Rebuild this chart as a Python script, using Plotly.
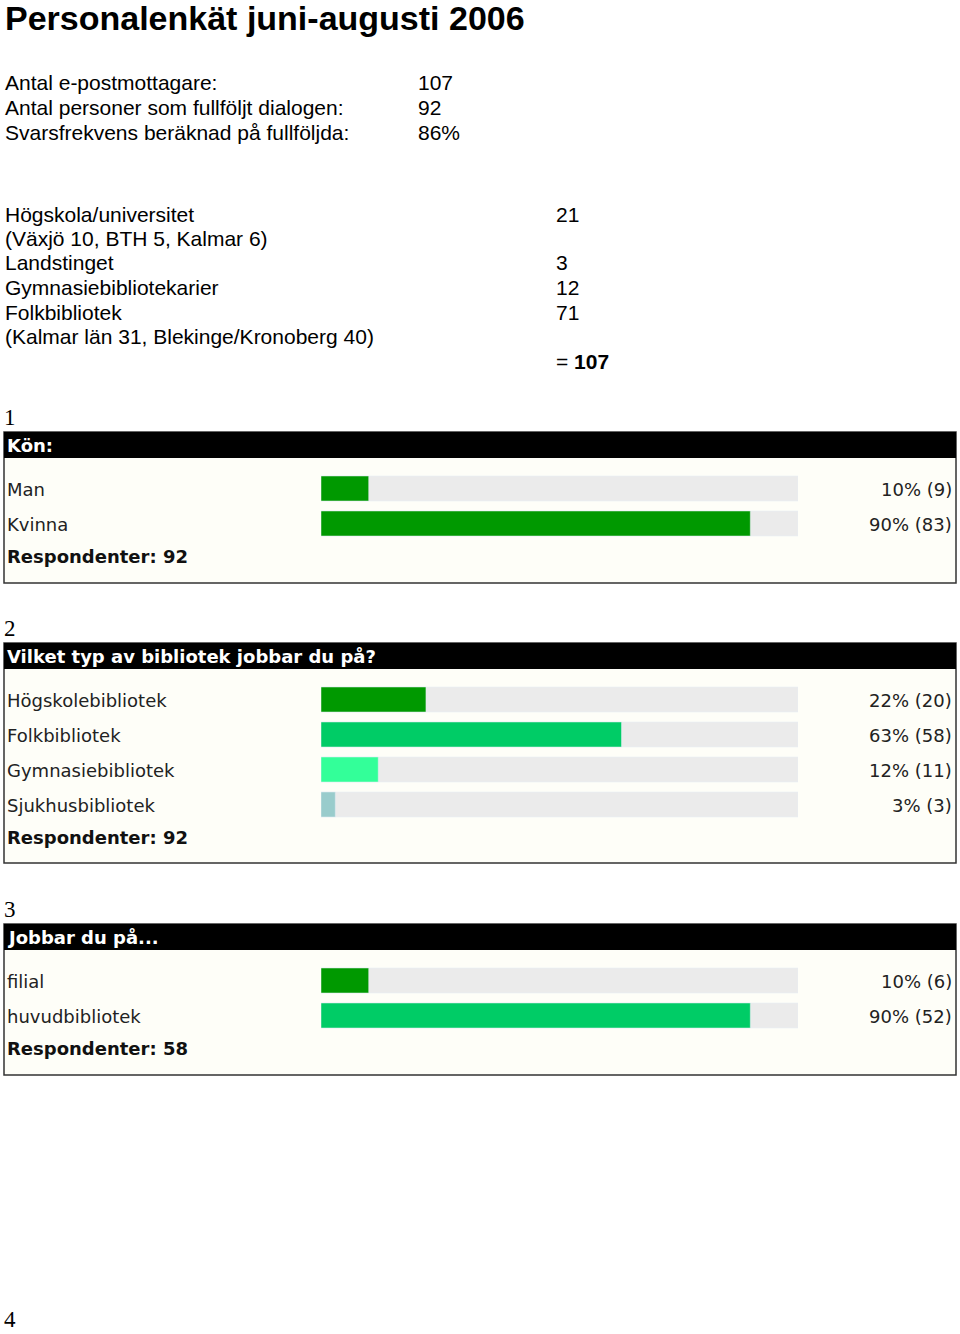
import plotly.graph_objects as go

W, H = 960, 1334

# ---------------- data ----------------
title_text = "Personalenkät juni-augusti 2006"

stats_labels = ["Antal e-postmottagare:", "Antal personer som fullföljt dialogen:",
                "Svarsfrekvens beräknad på fullföljda:"]
stats_values = ["107", "92", "86%"]

group_labels = ["Högskola/universitet", "(Växjö 10, BTH 5, Kalmar 6)", "Landstinget",
                "Gymnasiebibliotekarier", "Folkbibliotek", "(Kalmar län 31, Blekinge/Kronoberg 40)", ""]
group_values = ["21", "", "3", "12", "71", "", "= <b>107</b>"]

page_numbers = ["1", "2", "3", "4"]
page_number_y = [417, 628, 909, 1319]

q1_title = "Kön:"
q1_labels = ["Man", "Kvinna"]
q1_pct = [10, 90]
q1_n = [9, 83]
q1_resp = 92
q1_colors = ["#009900", "#009900"]

q2_title = "Vilket typ av bibliotek jobbar du på?"
q2_labels = ["Högskolebibliotek", "Folkbibliotek", "Gymnasiebibliotek", "Sjukhusbibliotek"]
q2_pct = [22, 63, 12, 3]
q2_n = [20, 58, 11, 3]
q2_resp = 92
q2_colors = ["#009900", "#00CC66", "#33FF99", "#99CCCC"]

q3_title = "Jobbar du på..."
q3_labels = ["filial", "huvudbibliotek"]
q3_pct = [10, 90]
q3_n = [6, 52]
q3_resp = 58
q3_colors = ["#009900", "#00CC66"]

# ---------------- layout helpers ----------------
def X(px):
    return px / W


def Y(py):
    return 1 - py / H


SANS = "Liberation Sans, Arial, sans-serif"
SERIF = "Liberation Serif, Times New Roman, serif"
PIX = "DejaVu Sans, Verdana, sans-serif"
PFS = 18

fig = go.Figure()
shapes = []
annotations = []

# Title
annotations.append(dict(x=X(3), y=Y(18), xref="paper", yref="paper", text="<b>" + title_text + "</b>",
                        showarrow=False, xanchor="left", yanchor="middle",
                        font=dict(family=SANS, size=34, color="black")))

for i, (lab, val) in enumerate(zip(stats_labels, stats_values)):
    yy = 83 + i * 24.5
    annotations.append(dict(x=X(3), y=Y(yy), xref="paper", yref="paper", text=lab, showarrow=False,
                            xanchor="left", yanchor="middle", font=dict(family=SANS, size=21, color="black")))
    annotations.append(dict(x=X(416), y=Y(yy), xref="paper", yref="paper", text=val, showarrow=False,
                            xanchor="left", yanchor="middle", font=dict(family=SANS, size=21, color="black")))

for i, (lab, val) in enumerate(zip(group_labels, group_values)):
    yy = 214 + i * 24.5
    if lab:
        annotations.append(dict(x=X(3), y=Y(yy), xref="paper", yref="paper", text=lab, showarrow=False,
                                xanchor="left", yanchor="middle", font=dict(family=SANS, size=21, color="black")))
    if val:
        annotations.append(dict(x=X(554), y=Y(yy), xref="paper", yref="paper", text=val, showarrow=False,
                                xanchor="left", yanchor="middle", font=dict(family=SANS, size=21, color="black")))

# page numbers
for num, ny in zip(page_numbers, page_number_y):
    annotations.append(dict(x=X(2), y=Y(ny), xref="paper", yref="paper", text=num,
                            showarrow=False, xanchor="left", yanchor="middle",
                            font=dict(family=SERIF, size=23, color="black")))

panels = [
    dict(top=432, bottom=583, title=q1_title, labels=q1_labels, pct=q1_pct, n=q1_n, resp=q1_resp,
         colors=q1_colors, first=488.5),
    dict(top=643, bottom=863, title=q2_title, labels=q2_labels, pct=q2_pct, n=q2_n, resp=q2_resp,
         colors=q2_colors, first=699.5),
    dict(top=924, bottom=1075, title=q3_title, labels=q3_labels, pct=q3_pct, n=q3_n, resp=q3_resp,
         colors=q3_colors, first=980.5),
]

PITCH = 35
BAR_H = 25
TRACK_L, TRACK_R = 321, 798

layout_axes = {}
for k, p in enumerate(panels):
    idx = "" if k == 0 else str(k + 1)
    nrow = len(p["labels"])
    # box
    shapes.append(dict(type="rect", xref="paper", yref="paper", x0=X(4), x1=X(956), y0=Y(p["bottom"]),
                       y1=Y(p["top"]), fillcolor="#FEFEF8", line=dict(color="#333333", width=1.5), layer="below"))
    shapes.append(dict(type="rect", xref="paper", yref="paper", x0=X(4), x1=X(956), y0=Y(p["top"] + 26),
                       y1=Y(p["top"]), fillcolor="#000000", line=dict(width=0), layer="below"))
    annotations.append(dict(x=X(5), y=Y(p["top"] + 13), xref="paper", yref="paper",
                            text="<b>" + p["title"] + "</b>", showarrow=False, xanchor="left", yanchor="middle",
                            font=dict(family=PIX, size=PFS, color="white")))
    # bars
    xa = "x" + idx
    ya = "y" + idx
    fig.add_trace(go.Bar(y=p["labels"], x=[100] * nrow, orientation="h", marker=dict(color="#EBEBEB"),
                         xaxis=xa, yaxis=ya, hoverinfo="skip", showlegend=False))
    fig.add_trace(go.Bar(y=p["labels"], x=p["pct"], orientation="h", marker=dict(color=p["colors"]),
                         xaxis=xa, yaxis=ya, hoverinfo="skip", showlegend=False))
    d0 = p["first"] - PITCH / 2
    d1 = p["first"] + (nrow - 0.5) * PITCH
    layout_axes["xaxis" + idx] = dict(domain=[X(TRACK_L), X(TRACK_R)], range=[0, 100], visible=False,
                                      anchor=ya, fixedrange=True)
    layout_axes["yaxis" + idx] = dict(domain=[Y(d1), Y(d0)], type="category", categoryorder="array",
                                      categoryarray=p["labels"], range=[nrow - 0.5, -0.5], visible=False,
                                      anchor=xa, fixedrange=True)
    for lab, pc, n in zip(p["labels"], p["pct"], p["n"]):
        annotations.append(dict(x=X(5), y=lab, yshift=-1, xref="paper", yref=ya, text=lab, showarrow=False,
                                xanchor="left", yanchor="middle", font=dict(family=PIX, size=PFS, color="#222222")))
        annotations.append(dict(x=X(954), y=lab, yshift=-1, xref="paper", yref=ya, text=f"{pc}% ({n})",
                                showarrow=False, xanchor="right", yanchor="middle",
                                font=dict(family=PIX, size=PFS, color="#222222")))
    resp_y = p["first"] + (nrow - 1) * PITCH + 33
    annotations.append(dict(x=X(5), y=Y(resp_y), xref="paper", yref="paper",
                            text="<b>Respondenter: " + str(p["resp"]) + "</b>", showarrow=False,
                            xanchor="left", yanchor="middle", font=dict(family=PIX, size=PFS, color="#111111")))

fig.update_layout(
    width=W, height=H, autosize=False,
    margin=dict(l=0, r=0, t=0, b=0),
    paper_bgcolor="white", plot_bgcolor="rgba(0,0,0,0)",
    barmode="overlay", bargap=1 - BAR_H / PITCH,
    shapes=shapes, annotations=annotations,
    **layout_axes,
)

fig.write_html("out.html", config=dict(displayModeBar=False, staticPlot=True),
               post_script="document.body.style.margin='0px';document.body.style.overflow='hidden';")
